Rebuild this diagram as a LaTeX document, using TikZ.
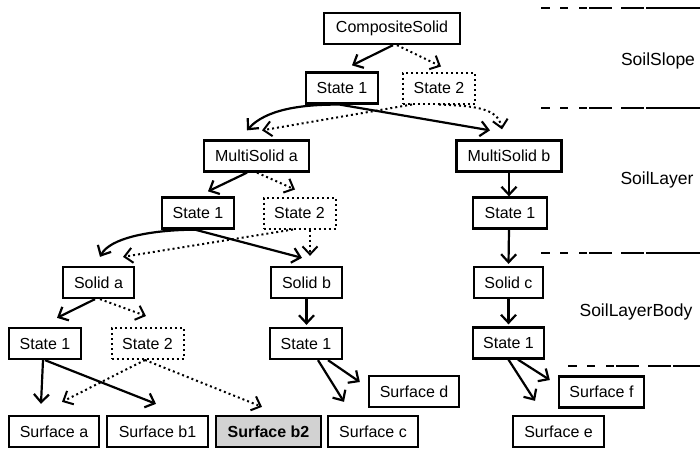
\documentclass[tikz,border=0pt]{standalone}
\usepackage{fontspec}
\setmainfont{Liberation Sans}
\usetikzlibrary{arrows.meta,calc}
\begin{document}
\begin{tikzpicture}[x=1pt,y=-1pt,
  box/.style={draw, line width=2.3pt, minimum height=31pt, inner sep=0pt,
    font=\fontsize{16}{19}\selectfont, minimum width=#1},
  dbox/.style={box=#1, line width=2pt, dash pattern=on 2pt off 3pt},
  arr/.style={line width=2.2pt, -{Straight Barb[length=8pt,width=15pt]}},
  darr/.style={arr, line width=2pt, dash pattern=on 2pt off 3pt},
  sep/.style={line width=2.5pt, dash pattern=on 9pt off 10pt on 8pt off 11pt on 8pt off 2pt on 23pt off 9pt on 23pt off 2pt on 300pt off 10pt},
  lbl/.style={font=\fontsize{17.5}{20}\selectfont, inner sep=0pt}]
\useasboundingbox (0,0) rectangle (700,450);

% nodes
\node[box=136] (cs) at (392,28.5) {CompositeSolid};
\node[box=72] (t1) at (342,88) {State 1};
\node[dbox=72] (t2) at (439,88) {State 2};
\node[box=105] (ma) at (256.5,156) {MultiSolid a};
\node[box=105] (mb) at (509,156) {MultiSolid b};
\node[box=72] (a1) at (198,213) {State 1};
\node[dbox=72] (a2) at (299.5,213) {State 2};
\node[box=74] (b1) at (510,213) {State 1};
\node[box=71] (sa) at (98.5,282.5) {Solid a};
\node[box=71] (sb) at (306.5,282.5) {Solid b};
\node[box=69] (sc) at (508.5,282.5) {Solid c};
\node[box=72] (c1) at (45,343.5) {State 1};
\node[dbox=72] (c2) at (147.5,343.5) {State 2};
\node[box=72] (d1) at (306,343.5) {State 1};
\node[box=71] (e1) at (508.5,343) {State 1};
\node[box=90] (Sa) at (54,431.5) {Surface a};
\node[box=101] (Sb1) at (157.5,431.5) {Surface b1};
\node[box=105, fill=gray!35, font=\fontsize{16}{19}\selectfont\bfseries] (Sb2) at (268.5,431.5) {Surface b2};
\node[box=90] (Sc) at (373,431.5) {Surface c};
\node[box=90] (Sd) at (414,391.5) {Surface d};
\node[box=85] (Sf) at (601.5,392) {Surface f};
\node[box=91] (Se) at (558.5,431.5) {Surface e};

% labels
\node[lbl] (l1) at (658,61) {SoilSlope};
\node[lbl] (l2) at (657,180) {SoilLayer};
\node[lbl] (l3) at (636,312) {SoilLayerBody};

% separators
\draw[sep] (541,8) -- (700,8);
\draw[sep] (541,108) -- (700,108);
\draw[sep] (541,253) -- (700,253);
\draw[sep] (568,366) -- (700,366);

% connectors level 0
\draw[arr] ($(cs.south)+(1,0)$) -- ($(t1.north)+(10,-6)$);
\draw[darr] ($(cs.south)+(5,0)$) -- ($(t2.north)+(2,-5)$);
% level 1
\draw[arr] (t1.south) .. controls (300,104) and (265,110) .. ($(ma.north)+(-9.5,-9)$);
\draw[arr] ($(t1.south)+(-2,0)$) -- ($(mb.north)+(-19,-9)$);
\draw[darr] ($(t2.south)+(-27,0)$) -- ($(ma.north)+(5.5,-9)$);
\draw[darr] (t2.south) .. controls (475,106) and (498,108) .. ($(mb.north)+(-7,-10)$);
% level 2
\draw[arr] ($(ma.south)+(-9.5,0)$) -- ($(a1.north)+(10,-5)$);
\draw[darr] ($(ma.south)+(0.5,0)$) -- ($(a2.north)+(-4.5,-7)$);
\draw[arr] (mb.south) -- (mb.south |- b1.north);
% level 3
\draw[arr] ($(a1.south)+(-3,0)$) .. controls (150,230) and (110,238) .. ($(sa.north)+(1.5,-9)$);
\draw[arr] ($(a1.south)+(-3,0)$) -- ($(sb.north)+(-4.5,-8)$);
\draw[darr] ($(a2.south)+(-6.5,0)$) -- ($(sa.north)+(24.5,-9)$);
\draw[darr] ($(a2.south)+(10.5,0)$) -- ($(sb.north)+(3.5,-10)$);
\draw[arr] ($(b1.south)+(-1,0)$) -- ($(sc.north)+(0,-2)$);
% level 4
\draw[arr] ($(sa.south)+(-3.5,0)$) -- ($(c1.north)+(12,-9)$);
\draw[darr] ($(sa.south)+(1.5,0)$) -- ($(c2.north)+(-1.5,-11)$);
\draw[arr] (sb.south) -- ($(sb.south |- d1.north)+(0,-2)$);
\draw[arr] (sc.south) -- ($(sc.south |- e1.north)+(0,-2)$);
% level 5
\draw[arr] ($(c1.south)+(-2,0)$) -- ($(Sa.north)+(-13,-11)$);
\draw[arr] (c1.south) -- ($(Sb1.north)+(-1.5,-11)$);
\draw[darr] ($(c2.south)+(-2.5,0)$) -- ($(Sa.north)+(8,-13)$);
\draw[darr] ($(c2.south)+(-2.5,0)$) -- ($(Sb2.north)+(-6.5,-8)$);
\draw[arr] ($(d1.south)+(12,0)$) -- ($(Sc.north)+(-29,-13)$);
\draw[arr] ($(d1.south)+(22,0)$) -- ($(Sd.west)+(-8,-9.5)$);
\draw[arr] (e1.south) -- ($(Se.north)+(-23.5,-14)$);
\draw[arr] ($(e1.south)+(9.5,0)$) -- ($(Sf.west)+(-8,-12)$);
\end{tikzpicture}
\end{document}
